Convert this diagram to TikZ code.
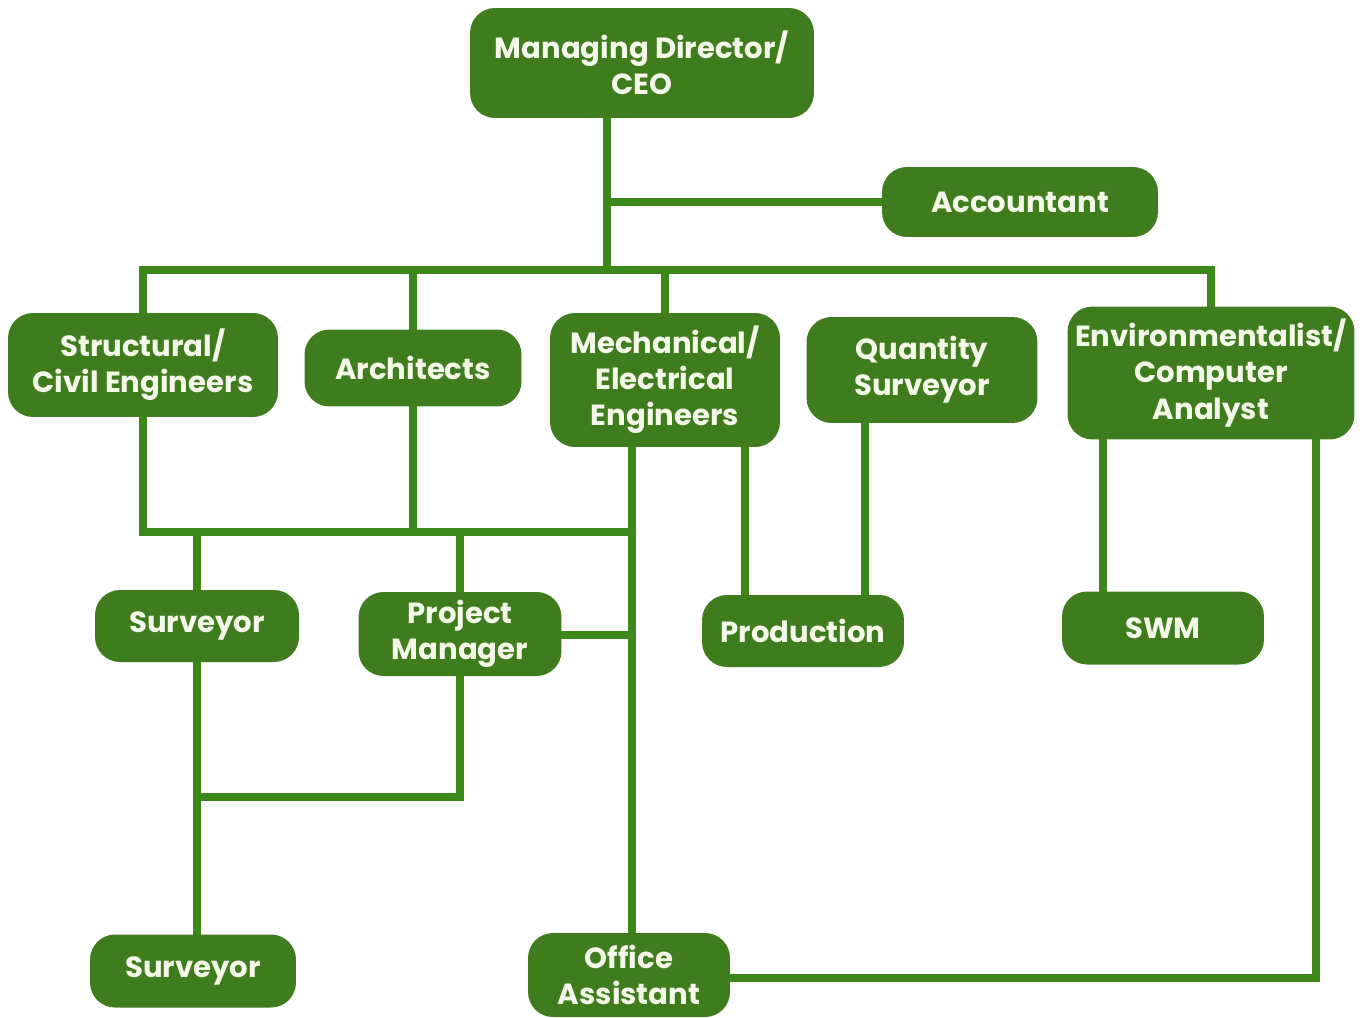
\documentclass[tikz,border=0pt]{standalone}
\usepackage{fontspec}
\setmainfont{Poppins}
\usetikzlibrary{calc}
\pgfdeclarelayer{background}
\pgfsetlayers{background,main}
\definecolor{boxgreen}{RGB}{62,124,30}
\definecolor{linegreen}{RGB}{60,136,24}
\definecolor{txt}{RGB}{244,248,232}
\tikzset{
  role/.style={rectangle, rounded corners=0.5cm, fill=boxgreen, text=txt,
    align=center, inner sep=0pt, font=\fontsize{16.6}{20.5}\selectfont\bfseries},
  link/.style={draw=linegreen, line width=0.16cm, line cap=rect, line join=miter}
}
\begin{document}
\begin{tikzpicture}[x=0.02cm, y=-0.02cm]
\useasboundingbox (0,0) rectangle (1365,1017);
% nodes
\node[role, minimum width=6.88cm, minimum height=2.2cm] (ceo) at (642,63) {Managing Director/\\CEO};
\node[role, minimum width=5.52cm, minimum height=1.4cm] (acc) at (1020,202) {Accountant};
\node[role, minimum width=5.4cm, minimum height=2.08cm] (sce) at (143,365) {Structural/\\Civil Engineers};
\node[role, minimum width=4.34cm, minimum height=1.54cm] (arc) at (413,368) {Architects};
\node[role, minimum width=4.6cm, minimum height=2.68cm] (mee) at (665,380) {Mechanical/\\Electrical\\Engineers};
\node[role, minimum width=4.62cm, minimum height=2.12cm] (qs) at (922,370) {Quantity\\Surveyor};
\node[role, minimum width=5.74cm, minimum height=2.66cm] (env) at (1211,373) {Environmentalist/\\Computer\\Analyst};
\node[role, minimum width=4.08cm, minimum height=1.44cm] (sv1) at (197,626) {Surveyor};
\node[role, minimum width=4.06cm, minimum height=1.68cm] (pm) at (460,634) {Project\\Manager};
\node[role, minimum width=4.04cm, minimum height=1.44cm] (prod) at (803,631) {Production};
\node[role, minimum width=4.04cm, minimum height=1.46cm] (swm) at (1163,628) {SWM};
\node[role, minimum width=4.12cm, minimum height=1.46cm] (sv2) at (193,971) {Surveyor};
\node[role, minimum width=4.04cm, minimum height=1.68cm] (oa) at (629,975) {Office\\Assistant};
% junction coordinates
\coordinate (jtop) at (607,270);
\coordinate (jacc) at (607,202);
\coordinate (jlow) at (632,532);
\coordinate (jpm) at (632,635);
\coordinate (jsv) at (197,797);
\coordinate (mL) at ($(mee.south)+(-33,0)$);
\coordinate (mR) at ($(mee.south)+(80,0)$);
\coordinate (pR) at ($(prod.north)+(62,0)$);
\coordinate (eL) at ($(env.south)+(-108,0)$);
\coordinate (eR) at ($(env.south)+(105,0)$);
\begin{pgfonlayer}{background}
% CEO and accountant
\draw[link] (ceo.south -| jtop) -- (jtop);
\draw[link] (jacc) -- (acc.west);
% top bus
\draw[link] (sce.north |- jtop) -- (env.north |- jtop);
\draw[link] (sce.north |- jtop) -- (sce.north);
\draw[link] (arc.north |- jtop) -- (arc.north);
\draw[link] (mee.north |- jtop) -- (mee.north);
\draw[link] ($(qs.north)+(-12,0)$ |- jtop) -- ($(qs.north)+(-12,0)$);
\draw[link] (env.north |- jtop) -- (env.north);
% lower bus
\draw[link] (sce.south) -- (sce.south |- jlow) -- (jlow);
\draw[link] (arc.south) -- (arc.south |- jlow);
\draw[link] (mL) -- (oa.north -| mL);
\draw[link] (sv1.north |- jlow) -- (sv1.north);
\draw[link] (pm.north |- jlow) -- (pm.north);
\draw[link] (pm.east |- jpm) -- (jpm);
% production
\draw[link] (mR) -- (mR |- prod.north);
\draw[link] (pR |- qs.south) -- (pR);
% SWM
\draw[link] (eL) -- (eL |- swm.north);
% office assistant
\draw[link] (eR) -- (eR |- 0,978) -- (oa.east |- 0,978);
% surveyors
\draw[link] (sv1.south) -- (sv1.south |- jsv) -- (pm.south |- jsv) -- (pm.south);
\draw[link] (sv1.south |- jsv) -- (sv2.north -| sv1.south);
\end{pgfonlayer}
\end{tikzpicture}
\end{document}
